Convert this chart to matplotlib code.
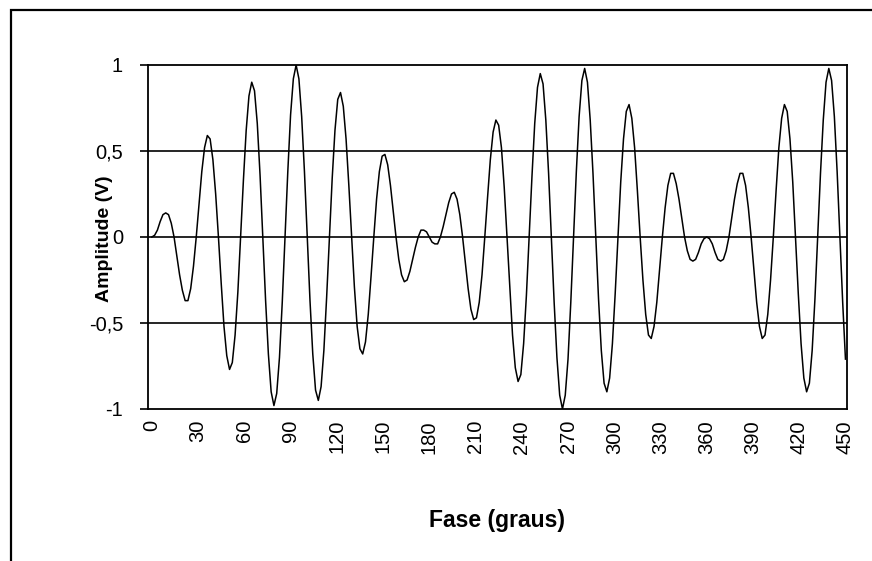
import numpy as np
import matplotlib
matplotlib.use("Agg")
import matplotlib.pyplot as plt
from matplotlib.patches import Rectangle
from matplotlib.ticker import FuncFormatter

# amplitude, one reading every 1.8 degrees from 0 to 450
amplitude = [
    0.00, 0.01, 0.04, 0.09, 0.13, 0.14, 0.13, 0.08, 0.00, -0.11,
    -0.22, -0.31, -0.37, -0.37, -0.30, -0.17, 0.00, 0.19, 0.38, 0.52,
    0.59, 0.57, 0.45, 0.25, 0.00, -0.27, -0.52, -0.69, -0.77, -0.73,
    -0.57, -0.32, 0.00, 0.33, 0.62, 0.82, 0.90, 0.85, 0.66, 0.36,
    0.00, -0.37, -0.68, -0.90, -0.98, -0.91, -0.70, -0.38, 0.00, 0.38,
    0.71, 0.92, 1.00, 0.92, 0.70, 0.38, 0.00, -0.37, -0.68, -0.89,
    -0.95, -0.87, -0.66, -0.35, 0.00, 0.34, 0.62, 0.80, 0.84, 0.76,
    0.57, 0.30, 0.00, -0.29, -0.52, -0.65, -0.68, -0.61, -0.45, -0.23,
    0.00, 0.22, 0.38, 0.47, 0.48, 0.42, 0.30, 0.15, 0.00, -0.13,
    -0.22, -0.26, -0.25, -0.20, -0.13, -0.06, 0.00, 0.04, 0.04, 0.03,
    0.00, -0.03, -0.04, -0.04, 0.00, 0.06, 0.13, 0.20, 0.25, 0.26,
    0.22, 0.13, 0.00, -0.15, -0.30, -0.42, -0.48, -0.47, -0.38, -0.22,
    0.00, 0.23, 0.45, 0.61, 0.68, 0.65, 0.52, 0.29, 0.00, -0.30,
    -0.57, -0.76, -0.84, -0.80, -0.62, -0.34, 0.00, 0.35, 0.66, 0.87,
    0.95, 0.89, 0.68, 0.37, 0.00, -0.38, -0.70, -0.92, -1.00, -0.92,
    -0.71, -0.38, 0.00, 0.38, 0.70, 0.91, 0.98, 0.90, 0.68, 0.37,
    0.00, -0.36, -0.66, -0.85, -0.90, -0.82, -0.62, -0.33, 0.00, 0.32,
    0.57, 0.73, 0.77, 0.69, 0.52, 0.27, 0.00, -0.25, -0.45, -0.57,
    -0.59, -0.52, -0.38, -0.19, 0.00, 0.17, 0.30, 0.37, 0.37, 0.31,
    0.22, 0.11, 0.00, -0.08, -0.13, -0.14, -0.13, -0.09, -0.04, -0.01,
    0.00, -0.01, -0.04, -0.09, -0.13, -0.14, -0.13, -0.08, 0.00, 0.11,
    0.22, 0.31, 0.37, 0.37, 0.30, 0.17, 0.00, -0.19, -0.38, -0.52,
    -0.59, -0.57, -0.45, -0.25, 0.00, 0.27, 0.52, 0.69, 0.77, 0.73,
    0.57, 0.32, 0.00, -0.33, -0.62, -0.82, -0.90, -0.85, -0.66, -0.36,
    0.00, 0.37, 0.68, 0.90, 0.98, 0.91, 0.70, 0.38, 0.00, -0.38,
    -0.71,
]
fase = np.linspace(0, 450, len(amplitude))

xticks = list(range(0, 451, 30))
yticks = [-1, -0.5, 0, 0.5, 1]

plt.rcParams["font.family"] = ["Liberation Sans", "DejaVu Sans"]

fig = plt.figure(figsize=(8.72, 5.61), dpi=100)
W, H = 872, 561

# outer chart border (cut off at right and bottom like the original)
fig.patches.append(Rectangle((11 / W, -0.2), 1.2, 1.2 - 9.5 / H,
                             transform=fig.transFigure, fill=False,
                             edgecolor="black", linewidth=1.6))

ax = fig.add_axes([148 / W, 1 - 409 / H, (847 - 148) / W, (409 - 65) / H])
ax.plot(fase, amplitude, color="black", linewidth=1.1)

ax.set_xlim(-2.5, 451)
ax.set_ylim(-1, 1)
ax.set_xticks(xticks)
ax.set_xticklabels([str(t) for t in xticks], rotation=90, fontsize=14.5)
ax.set_yticks(yticks)
ax.yaxis.set_major_formatter(FuncFormatter(lambda v, p: ("%g" % v).replace(".", ",")))
ax.tick_params(axis="y", length=6, width=1.2, pad=12, labelsize=14.5)
ax.tick_params(axis="x", length=0, pad=8)

for v in [-0.5, 0, 0.5]:
    ax.axhline(v, color="black", linewidth=1.2, zorder=0)
for s in ax.spines.values():
    s.set_linewidth(1.3)

fig.text(497 / W, 1 - 521 / H, "Fase (graus)", fontsize=16.5, fontweight="bold",
         ha="center", va="center")
fig.text(104 / W, 1 - 239 / H, "Amplitude (V)", fontsize=14, fontweight="bold",
         ha="center", va="center", rotation=90)

fig.savefig("out.png", dpi=100)
